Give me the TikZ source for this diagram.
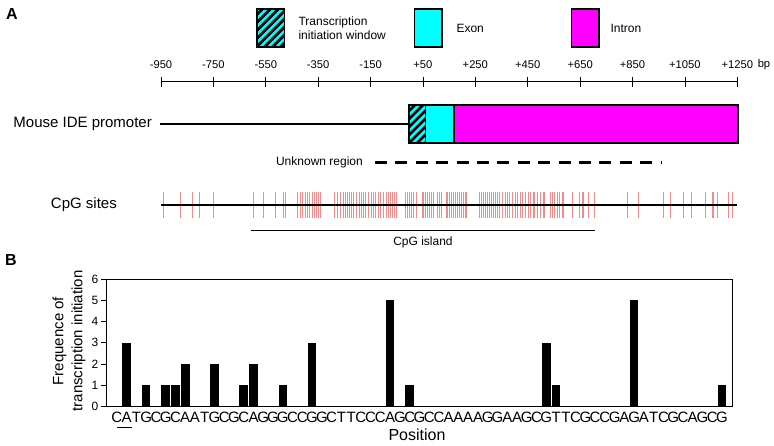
\documentclass[tikz,border=0pt]{standalone}
\usepackage{fontspec}
\setmainfont{Liberation Sans}
\usetikzlibrary{positioning}
\definecolor{exoncyan}{RGB}{0,255,255}
\definecolor{intronmag}{RGB}{255,0,255}
\definecolor{cpgred}{RGB}{240,140,140}

\begin{document}
\begin{tikzpicture}[x=1pt,y=-1pt,font=\fontsize{12}{14}\selectfont,
  box/.style={draw,line width=1.6pt,inner sep=0pt,outer sep=0pt},
  hatched/.style={box,fill=exoncyan,path picture={
      \foreach \s in {-56,-48,...,40}
        \draw[line width=2.8pt] ([xshift=\s]path picture bounding box.south west) -- ++(60,-60);}},
  panel/.style={font=\bfseries\fontsize{16}{18}\selectfont},
  lab/.style={font=\fontsize{15}{19}\selectfont},
  ticklab/.style={font=\fontsize{11.2}{13}\selectfont},
  seq/.style={font=\fontsize{15}{17}\selectfont,inner sep=0pt}]
  \useasboundingbox (0,0) rectangle (774,445);

  % panel A: legend
  \node[panel] (pa) at (12,14) {A};
  \node[hatched,minimum width=27.6,minimum height=37.7] (lgwin) at (270.5,27.85) {};
  \node[anchor=west,align=left] (lgwintxt) at (295,28) {Transcription\\initiation window};
  \node[box,fill=exoncyan,minimum width=27.6,minimum height=37.7] (lgexon) at (428.2,27.85) {};
  \node[anchor=west] (lgexontxt) at (453,28) {Exon};
  \node[box,fill=intronmag,minimum width=27.6,minimum height=37.7] (lgintron) at (585.4,27.85) {};
  \node[anchor=west] (lgintrontxt) at (607,28) {Intron};

  % bp axis
  \draw[line width=1pt] (161,81.7) -- (737.3,81.7);
  \foreach \t [count=\i from 0] in {-950,-750,-550,-350,-150,+50,+250,+450,+650,+850,+1050,+1250} {
    \draw[line width=0.8pt] (161+\i*52.39,76.7) -- ++(0,10);
    \node[ticklab] (t\i) at (161+\i*52.39,65) {\t};
  }
  \node[ticklab,right=0pt of t11,inner sep=1pt] (bp) {bp};

  % promoter
  \node[lab,anchor=east,inner xsep=8pt] (prom) at (160,124) {Mouse IDE promoter};
  \node[hatched,minimum width=16.5,minimum height=38] (tiw) at (417.25,124) {};
  \node[box,fill=exoncyan,minimum width=28.5,minimum height=38] (exon) at (439.75,124) {};
  \node[box,fill=intronmag,minimum width=284,minimum height=38] (intron) at (596,124) {};
  \draw[line width=2.2pt] (prom.east) -- (tiw.west);
  \node[anchor=east,inner xsep=12pt] (unk) at (375,162.5) {Unknown region};
  \coordinate (unkend) at (661,162.5);
  \draw[line width=2.5pt,dash pattern=on 12pt off 8.4pt] (unk.east) -- (unkend);

  % CpG sites
  \node[lab,anchor=east,inner xsep=44pt] (cpg) at (161,205) {CpG sites};
  \coordinate (cpgend) at (737.3,205);
  \foreach \x in {163,180,192,199,213,253,263,275,283,285,297,300,302,305,307,309,312,314,316,318,320,
                  334,337,340,343,345,347,349,351,353,356,359,361,363,365,368,371,373,375,378,380,383,386,388,390,392,394,396,
                  405,407,409,411,413,416,422,423,425,427,429,431,433,437,439,441,446,447,449,451,453,455,457,
                  459,461,463,465,466,479,481,483,485,487,489,491,493,495,497,499,502,505,507,509,512,515,517,520,522,525,528,530,
                  533,534,537,540,543,544,550,552,554,557,559,562,563,572,579,582,583,588,594,
                  627,638,663,670,683,691,705,712,713,717,728,732}
    \draw[cpgred,line width=1.1pt] (\x+0.5,192.3) -- (\x+0.5,218.3);
  \draw[line width=2.2pt] (cpg.east) -- (cpgend);
  \coordinate (isl1) at (251,230);
  \coordinate (isl2) at (595,230);
  \draw[line width=1pt] (isl1) -- (isl2);
  \node (isl) at (423,242) {CpG island};

  % panel B
  \node[panel] (pb) at (11,260) {B};
  \draw[line width=0.9pt] (106.7,279) rectangle (732.3,406.7);
  \foreach \k in {0,...,6} {
    \draw[line width=0.9pt] (101,406.7-21.28*\k) -- (106.7,406.7-21.28*\k);
    \node[anchor=east,font=\fontsize{12}{14}\selectfont,inner sep=1.5pt] (y\k) at (100,406.7-21.28*\k) {\k};
  }
  \node[lab,rotate=90,align=center] (ylab) at (69,341) {Frequence of\\transcription initiation};
  \foreach \i/\h in {1/3,3/1,5/1,6/1,7/2,10/2,13/1,14/2,17/1,20/3,28/5,30/1,44/3,45/1,53/5,62/1}
    \fill (112.6+9.76*\i,406.7) rectangle ++(8.6,-21.28*\h);
  \foreach \c [count=\i from 0] in {C,A,T,G,C,G,C,A,A,T,G,C,G,C,A,G,G,G,C,C,G,G,C,T,T,C,C,C,A,G,C,G,C,C,A,A,A,A,G,G,A,A,G,C,G,T,T,C,G,C,C,G,A,G,A,T,C,G,C,A,G,C,G}
    \node[seq] (s\i) at (116.88+9.76*\i,417) {\c};
  \draw[line width=1.2pt] (117,427.5) -- (132,427.5);
  \node[font=\fontsize{16}{18}\selectfont] (pos) at (417,435) {Position};
\end{tikzpicture}
\end{document}
